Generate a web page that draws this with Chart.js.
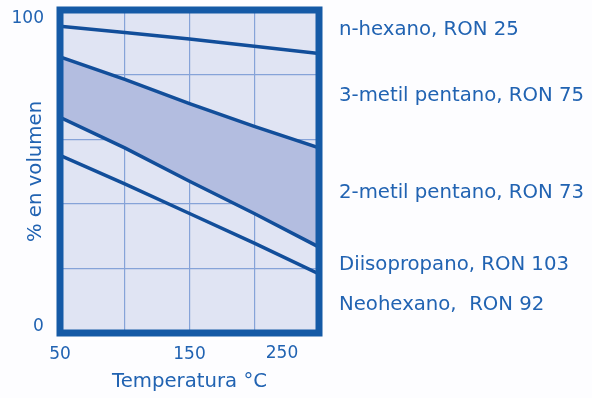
<!DOCTYPE html>
<html>
<head>
<meta charset="utf-8">
<script src="https://cdn.jsdelivr.net/npm/chart.js@4/dist/chart.umd.min.js"></script>
<style>
  html, body { margin: 0; padding: 0; background: #fdfdff; overflow: hidden; }
  canvas { display: block; }
</style>
</head>
<body>
<canvas id="c" width="592" height="398"></canvas>
<script>
// ---- data ----
const temperatures = [50, 100, 150, 200, 250];
const nHexano       = [95, 93, 91, 88.8, 86.5];
const metil3Pentano = [85.5, 78.5, 71, 64, 57.3];
const metil2Pentano = [66.8, 57.3, 47, 37, 26.6];
const lowestLine    = [55, 46.2, 37, 27.8, 18.3];
const seriesNames = ['n-hexano, RON 25', '3-metil pentano, RON 75', '2-metil pentano, RON 73', 'Diisopropano, RON 103', 'Neohexano,  RON 92'];
const seriesLabelLevels = [93.7, 73.5, 43.5, 21.2, 8.7];
const yGridValues = [0, 20, 40, 60, 80, 100];
const yTopLabel = 100;
const yBottomLabel = 0;
const xTickLabels = [50, 150];
const xLastLabel = 250;

const BLUE_TEXT = '#2163b2';
const LINE = '#124e9a';
const FRAME = '#155aa6';
const PLOT_BG = '#e0e4f3';
const BAND = '#b3bde0';
const GRID = '#86a3d8';
const FONT = "'DejaVu Sans', sans-serif";

const toPts = arr => temperatures.map((t, i) => ({x: t, y: arr[i]}));

const bgPlugin = {
  id: 'plotBg',
  beforeDraw(chart) {
    const {ctx, chartArea: a} = chart;
    ctx.save();
    ctx.fillStyle = PLOT_BG;
    ctx.fillRect(a.left, a.top, a.right - a.left, a.bottom - a.top);
    ctx.restore();
  }
};
const framePlugin = {
  id: 'frame',
  afterDatasetsDraw(chart) {
    const {ctx, chartArea: a} = chart;
    ctx.save();
    ctx.strokeStyle = FRAME;
    ctx.lineWidth = 7;
    ctx.strokeRect(a.left, a.top, a.right - a.left, a.bottom - a.top);
    ctx.restore();
  }
};

const lineDs = (label, arr, extra) => Object.assign({
  label, data: toPts(arr), borderColor: LINE, borderWidth: 3.5,
  pointRadius: 0, fill: false, tension: 0, yAxisID: 'y', xAxisID: 'x'
}, extra || {});

const fitV = w => s => { s.width = w; s.paddingTop = 0; s.paddingBottom = 0; };
const fitH = h => s => { s.height = h; s.paddingLeft = 0; s.paddingRight = 0; };
const tickFont = { family: FONT, size: 17 };
const titleFont = { family: FONT, size: 19.7 };

new Chart(document.getElementById('c'), {
  type: 'line',
  data: {
    datasets: [
      lineDs(seriesNames[0], nHexano),
      lineDs(seriesNames[1], metil3Pentano, {fill: '+1', backgroundColor: BAND}),
      lineDs(seriesNames[2], metil2Pentano),
      lineDs(seriesNames[3], lowestLine)
    ]
  },
  options: {
    responsive: false,
    animation: false,
    devicePixelRatio: 1,
    layout: { padding: { top: 10, left: 0, right: 0, bottom: 0 } },
    plugins: {
      legend: { display: false }, tooltip: { enabled: false },
      filler: { drawTime: 'beforeDatasetsDraw' }
    },
    scales: {
      x: {
        type: 'linear', min: 50, max: 250, weight: 2,
        afterFit: fitH(65),
        afterBuildTicks: s => { s.ticks = temperatures.map(v => ({value: v})); },
        grid: { color: GRID, lineWidth: 1.2, drawTicks: false },
        border: { display: false },
        ticks: {
          padding: 11, color: BLUE_TEXT, font: tickFont,
          autoSkip: false, maxRotation: 0,
          callback: v => xTickLabels.includes(v) ? String(v) : ''
        },
        title: { display: true, text: 'Temperatura °C', color: BLUE_TEXT,
                 font: titleFont, padding: { top: 0, bottom: 4 } }
      },
      xEnd: {
        type: 'linear', position: 'bottom', min: 50, max: 250, weight: 1,
        afterFit: fitH(0),
        afterBuildTicks: s => { s.ticks = [{value: xLastLabel}]; },
        grid: { display: false, drawTicks: false },
        border: { display: false },
        ticks: {
          mirror: true, padding: -31.2, color: BLUE_TEXT, font: tickFont,
          autoSkip: false, maxRotation: 0, labelOffset: -37,
          callback: v => String(v)
        }
      },
      y: {
        type: 'linear', position: 'left', min: 0, max: 100, weight: 2,
        afterFit: fitV(60),
        afterBuildTicks: s => { s.ticks = yGridValues.map(v => ({value: v})); },
        grid: { color: GRID, lineWidth: 1.2, drawTicks: false },
        border: { display: false },
        ticks: {
          padding: 16, color: BLUE_TEXT, font: tickFont,
          autoSkip: false, labelOffset: 8.5,
          callback: v => v === yTopLabel ? String(v) : ''
        },
        title: { display: true, text: '% en volumen', color: BLUE_TEXT,
                 font: titleFont, padding: { top: 24, bottom: 0 } }
      },
      yStart: {
        type: 'linear', position: 'left', min: 0, max: 100, weight: 1,
        afterFit: fitV(0),
        afterBuildTicks: s => { s.ticks = [{value: yBottomLabel}]; },
        grid: { display: false, drawTicks: false },
        border: { display: false },
        ticks: {
          mirror: true, crossAlign: 'far', padding: -27, color: BLUE_TEXT, font: tickFont,
          autoSkip: false, labelOffset: -6,
          callback: v => String(v)
        }
      },
      yNames: {
        type: 'linear', position: 'right', min: 0, max: 100,
        afterFit: fitV(592 - 319),
        afterBuildTicks: s => { s.ticks = seriesLabelLevels.map(v => ({value: v})); },
        grid: { display: false, drawTicks: false },
        border: { display: false },
        ticks: {
          padding: 20, color: BLUE_TEXT, font: titleFont,
          autoSkip: false,
          callback: (v, i) => seriesNames[i]
        }
      }
    }
  },
  plugins: [bgPlugin, framePlugin]
});
</script>
</body>
</html>
